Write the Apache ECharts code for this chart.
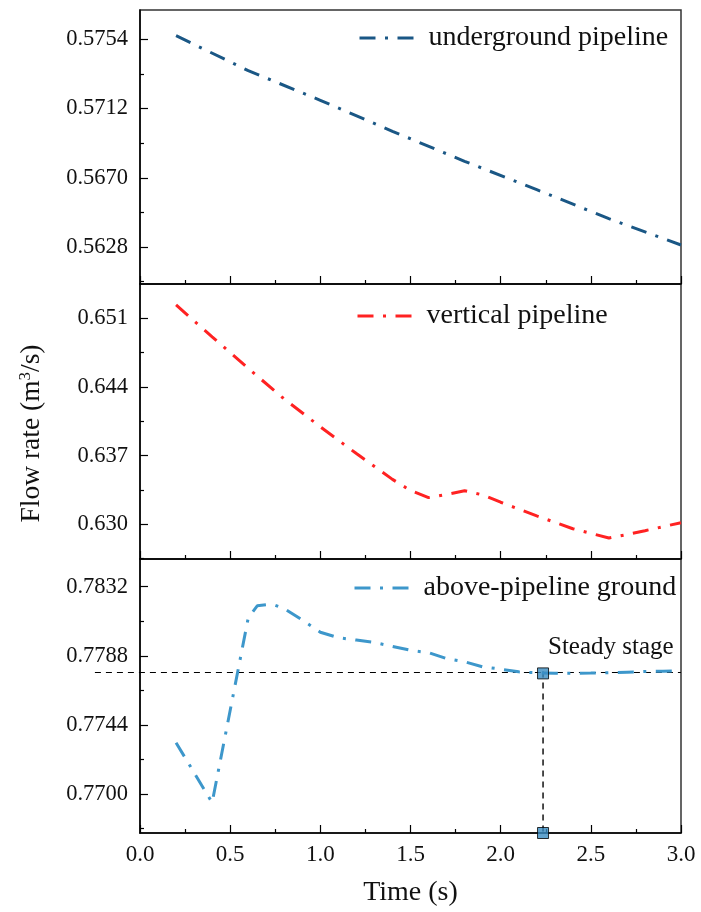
<!DOCTYPE html>
<html><head><meta charset="utf-8">
<script src="https://cdn.jsdelivr.net/npm/echarts@6/dist/echarts.min.js"></script>
<style>html,body{margin:0;padding:0;background:#fff}#c{width:701px;height:912px}</style>
</head><body><div id="c"></div>
<script>
// ---- data ----
const timeUnder = [0.2, 0.6, 1.0, 1.4, 1.8, 2.2, 2.6, 3.0];
const flowUnder = [0.57562, 0.57350, 0.57170, 0.56982, 0.56800, 0.56628, 0.56452, 0.56292];

const timeVert = [0.2, 0.4, 0.6, 0.8, 1.0, 1.2, 1.4, 1.5, 1.6, 1.7, 1.8, 1.9, 2.0, 2.2, 2.4, 2.6, 2.7, 2.8, 3.0];
const flowVert = [0.65236, 0.64911, 0.64590, 0.64277, 0.63994, 0.63721, 0.63458, 0.63345, 0.63272, 0.63305, 0.63342, 0.63300, 0.63225, 0.63086, 0.62955, 0.62860, 0.62895, 0.62935, 0.63016];

const timeAbove = [0.2, 0.4, 0.6, 0.65, 0.7, 0.75, 0.8, 0.9, 1.0, 1.1, 1.2, 1.3, 1.4, 1.5, 1.6, 1.7, 1.8, 1.9, 2.0, 2.1, 2.2, 2.3, 2.4, 2.5, 2.6, 2.7, 2.8, 2.9, 3.0];
const flowAbove = [0.77327, 0.76945, 0.78120, 0.78198, 0.78205, 0.78202, 0.78180, 0.78108, 0.78030, 0.77995, 0.77980, 0.77965, 0.77940, 0.77915, 0.77900, 0.77862, 0.77842, 0.77810, 0.77795, 0.77778, 0.77772, 0.77769, 0.77769, 0.77770, 0.77772, 0.77776, 0.77780, 0.77782, 0.77784];

const steadyTime = 2.235;
const steadyFlow = 0.7778;
const steadyMarker = 0.77768;
const steadyLineStart = -0.25;

const yTicksUnder = [0.5628, 0.5670, 0.5712, 0.5754];
const yMinorUnder = [0.5607, 0.5649, 0.5691, 0.5733];
const yTicksVert = [0.630, 0.637, 0.644, 0.651];
const yMinorVert = [0.6265, 0.6335, 0.6405, 0.6475];
const yTicksAbove = [0.7700, 0.7744, 0.7788, 0.7832];
const yMinorAbove = [0.7678, 0.7722, 0.7766, 0.7810];

const names = ['underground pipeline', 'vertical pipeline', 'above-pipeline ground'];
const colors = ['#1a5785', '#ff2222', '#3d97cb'];

// ---- chart ----
const FONT = '"Liberation Serif", "Times New Roman", serif';
const ranges = [[0.560555, 0.577178], [0.626463, 0.654497], [0.767517, 0.784964]];
const majors = [yTicksUnder, yTicksVert, yTicksAbove];
const minors = [yMinorUnder, yMinorVert, yMinorAbove];
const decs = [4, 3, 4];
const grids = [
  {left: 140, right: 20, top: 10, height: 274},
  {left: 140, right: 20, top: 284, height: 275},
  {left: 140, right: 20, top: 559, height: 274}
].map(g => Object.assign(g, {show: true, borderColor: '#333', borderWidth: 1.5, backgroundColor: 'transparent'}));

const xAxes = [0, 1, 2].map(i => ({
  type: 'value', gridIndex: i, min: 0, max: 3, interval: 0.5,
  axisLine: {show: true, onZero: false, lineStyle: {color: '#000', width: 1.5}},
  axisTick: {show: true, inside: true, length: 8, lineStyle: {color: '#000', width: 1.2}},
  minorTick: {show: true, splitNumber: 2, length: 4, lineStyle: {color: '#000', width: 1.2}},
  splitLine: {show: false},
  axisLabel: {show: i === 2, margin: 10, fontFamily: FONT, fontSize: 23, color: '#111',
    formatter: v => v.toFixed(1)},
  name: i === 2 ? 'Time (s)' : '', nameLocation: 'middle', nameGap: 46,
  nameTextStyle: {fontFamily: FONT, fontSize: 28, color: '#111'}
}));

const yAxes = [];
[0, 1, 2].forEach(i => {
  yAxes.push({
    type: 'value', gridIndex: i, min: ranges[i][0], max: ranges[i][1],
    axisLine: {show: true, onZero: false, lineStyle: {color: '#000', width: 1.5}},
    axisTick: {show: true, inside: true, length: 8, customValues: majors[i], lineStyle: {color: '#000', width: 1.2}},
    axisLabel: {show: true, customValues: majors[i], margin: 12, fontFamily: FONT, fontSize: 22.5, color: '#111',
      formatter: v => Number(v).toFixed(decs[i])},
    splitLine: {show: false},
    name: i === 1 ? 'Flow rate (m{sup|3}/s)' : '',
    nameLocation: 'middle', nameGap: 94,
    nameTextStyle: {fontFamily: FONT, fontSize: 27.5, color: '#111', padding: [0, 24, 0, 0],
      rich: {sup: {fontFamily: FONT, fontSize: 17, verticalAlign: 'top', padding: [0, 0, 12, 0], color: '#111'}}}
  });
});
[0, 1, 2].forEach(i => {
  yAxes.push({
    type: 'value', gridIndex: i, min: ranges[i][0], max: ranges[i][1], position: 'left',
    axisLine: {show: false},
    axisTick: {show: true, inside: true, length: 4, customValues: minors[i], lineStyle: {color: '#000', width: 1.2}},
    axisLabel: {show: false},
    splitLine: {show: false}
  });
});

const dash = [16, 9.5, 3, 9.5];
function curve(i, t, f) {
  return {
    name: names[i], type: 'line', xAxisIndex: i, yAxisIndex: i,
    data: t.map((x, k) => [x, f[k]]), showSymbol: false, symbol: 'none',
    lineStyle: {color: colors[i], width: 3, type: dash, cap: 'butt'},
    itemStyle: {color: colors[i]}, z: 5
  };
}

const series = [
  {name: 'steady-v', type: 'line', xAxisIndex: 2, yAxisIndex: 2, clip: false, symbol: 'none',
    data: [[steadyTime, steadyFlow], [steadyTime, ranges[2][0]]],
    lineStyle: {color: '#000', width: 1.4, type: [6, 5]}, z: 3, silent: true},
  curve(0, timeUnder, flowUnder),
  curve(1, timeVert, flowVert),
  curve(2, timeAbove, flowAbove),
  {name: 'steady-pt', type: 'scatter', xAxisIndex: 2, yAxisIndex: 2, clip: false,
    symbol: 'rect', symbolSize: 11,
    data: [[steadyTime, steadyMarker], [steadyTime, ranges[2][0]]],
    itemStyle: {color: '#3a8cc2', borderColor: '#000', borderWidth: 1}, z: 10}
];

const legendBase = {
  orient: 'horizontal', itemWidth: 55, itemHeight: 14, itemGap: 0,
  itemStyle: {opacity: 0},
  lineStyle: {width: 3},
  textStyle: {fontFamily: FONT, fontSize: 28, color: '#111', padding: [0, 0, 0, 9]},
  selectedMode: false
};
const legends = [
  Object.assign({}, legendBase, {data: [names[0]], left: 353, top: 19}),
  Object.assign({}, legendBase, {data: [names[1]], left: 351, top: 297}),
  Object.assign({}, legendBase, {data: [names[2]], left: 348, top: 569})
];

const steadyText = {
  type: 'text', left: 548, top: 635,
  style: {text: 'Steady stage', font: '25px "Liberation Serif"', fill: '#111'}
};

const chart = echarts.init(document.getElementById('c'), null, {renderer: 'canvas'});
chart.setOption({
  animation: false,
  backgroundColor: '#fff',
  grid: grids,
  xAxis: xAxes,
  yAxis: yAxes,
  legend: legends,
  series: series,
  graphic: [steadyText]
});
// horizontal steady line, extending left of the plot, placed through the axes' scales
const p0 = chart.convertToPixel({xAxisIndex: 2, yAxisIndex: 2}, [steadyLineStart, steadyFlow]);
const p1 = chart.convertToPixel({xAxisIndex: 2, yAxisIndex: 2}, [3.0, steadyFlow]);
chart.setOption({
  graphic: [steadyText, {
    type: 'line', z: 1, silent: true,
    shape: {x1: p0[0], y1: Math.round(p0[1]) + 0.5, x2: p1[0], y2: Math.round(p1[1]) + 0.5},
    style: {stroke: '#000', lineWidth: 1, lineDash: [6, 5]}
  }]
});
</script></body></html>
